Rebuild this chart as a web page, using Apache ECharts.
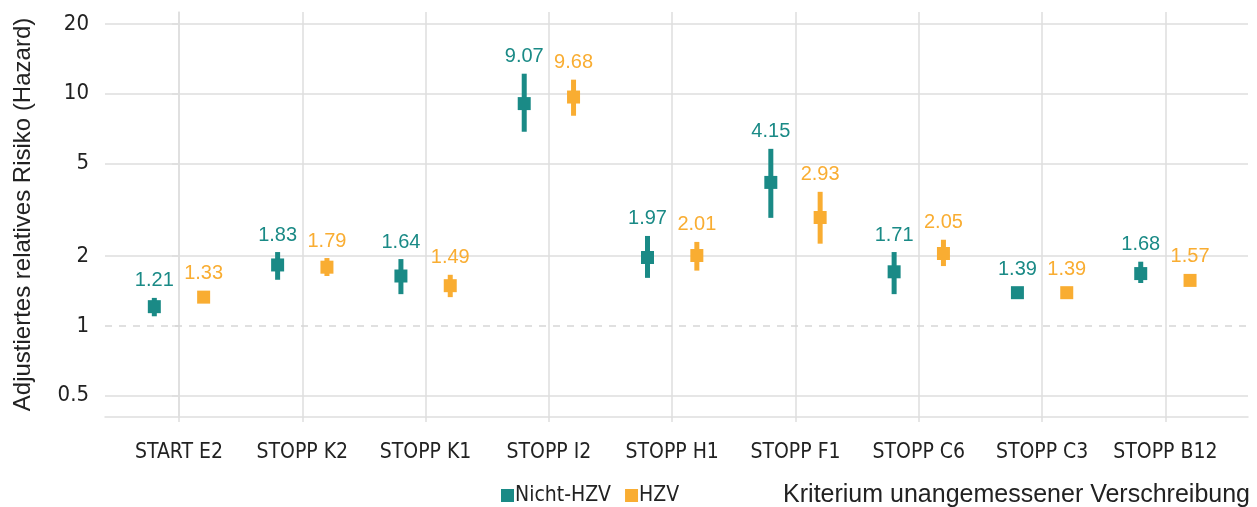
<!DOCTYPE html>
<html>
<head>
<meta charset="utf-8">
<script src="https://cdn.jsdelivr.net/npm/echarts@6/dist/echarts.min.js"></script>
<style>
html, body { margin: 0; padding: 0; background: #fff; }
#chart { width: 1257px; height: 507px; }
</style>
</head>
<body>
<div id="chart"></div>
<script>
// Kriterien
var categories = ['START E2', 'STOPP K2', 'STOPP K1', 'STOPP I2', 'STOPP H1', 'STOPP F1', 'STOPP C6', 'STOPP C3', 'STOPP B12'];

// Nicht-HZV: Schätzer + Konfidenzintervall
var nichtHzv = [1.21, 1.83, 1.64, 9.07, 1.97, 4.15, 1.71, 1.39, 1.68];
var nichtHzvLow = [1.10, 1.58, 1.37, 6.86, 1.61, 2.92, 1.37, 1.33, 1.53];
var nichtHzvHigh = [1.32, 2.08, 1.94, 12.2, 2.44, 5.79, 2.08, 1.45, 1.89];

// HZV
var hzv = [1.33, 1.79, 1.49, 9.68, 2.01, 2.93, 2.05, 1.39, 1.57];
var hzvLow = [1.28, 1.64, 1.33, 8.04, 1.73, 2.26, 1.81, 1.34, 1.50];
var hzvHigh = [1.39, 1.96, 1.66, 11.5, 2.30, 3.78, 2.35, 1.44, 1.64];

var yTicks = [0.5, 1, 2, 5, 10, 20];
var yGrid = [0.5, 2, 5, 10, 20];

var TEAL = '#1a8a86', ORANGE = '#f9ad32';
var GRID = '#dedede';
var narrow = '"DejaVu Sans Condensed", "Liberation Sans Narrow", sans-serif';
var regular = '"Liberation Sans", Arial, sans-serif';
var dodge = 0.2;

function whiskerData(est, lo, hi, off) {
    return est.map(function (v, i) { return [i + off, lo[i], hi[i], v]; });
}
function pointData(est, off) {
    return est.map(function (v, i) { return [i + off, v]; });
}

function renderWhisker(color) {
    return function (params, api) {
        var x = api.value(0);
        var pLo = api.coord([x, api.value(1)]);
        var pHi = api.coord([x, api.value(2)]);
        var pEst = api.coord([x, api.value(3)]);
        var top = Math.min(pHi[1], pEst[1] - 6.5);
        return {
            type: 'group',
            children: [{
                type: 'rect',
                shape: { x: pLo[0] - 2.5, y: pHi[1], width: 5, height: pLo[1] - pHi[1] },
                style: { fill: color }
            }, {
                type: 'text',
                style: {
                    x: pEst[0], y: top - 7,
                    text: api.value(3).toFixed(2),
                    fill: color,
                    font: '20px ' + regular,
                    textAlign: 'center',
                    textVerticalAlign: 'bottom'
                }
            }]
        };
    };
}

var chart = echarts.init(document.getElementById('chart'));
var option = {
    animation: false,
    grid: { left: 105, right: 9, top: 12, bottom: 90 },
    legend: {
        left: 496, top: 480,
        itemWidth: 13, itemHeight: 13, itemGap: 14,
        icon: 'rect',
        data: ['Nicht-HZV', 'HZV'],
        textStyle: { color: '#222', fontSize: 21, fontFamily: narrow, padding: [0, 0, 0, -4] }
    },
    graphic: [{
        type: 'text',
        right: 7, top: 483,
        style: { text: 'Kriterium unangemessener Verschreibung', fill: '#222', font: '25px ' + regular }
    }],
    xAxis: {
        type: 'value',
        min: -0.6, max: 8.67,
        axisLine: { show: true, lineStyle: { color: GRID, width: 1.5 } },
        axisTick: { show: true, length: 5, customValues: [0, 1, 2, 3, 4, 5, 6, 7, 8], lineStyle: { color: GRID, width: 1.5 } },
        splitLine: { show: true, lineStyle: { color: GRID, width: 1.5 } },
        axisLabel: {
            customValues: [0, 1, 2, 3, 4, 5, 6, 7, 8],
            formatter: function (v) { return categories[Math.round(v)]; },
            color: '#222', fontSize: 21, fontFamily: narrow, margin: 25
        }
    },
    yAxis: [{
        type: 'log', logBase: 10,
        min: 0.405, max: 22.5,
        name: 'Adjustiertes relatives Risiko (Hazard)',
        nameLocation: 'middle', nameGap: 70,
        nameTextStyle: { color: '#222', fontSize: 24, fontFamily: regular },
        axisLine: { show: true, lineStyle: { color: GRID, width: 1.5 } },
        axisTick: { show: true, length: 7, customValues: yTicks, lineStyle: { color: GRID, width: 1.5 } },
        splitLine: { show: false },
        axisLabel: {
            customValues: yTicks,
            formatter: function (v) { return String(Math.round(v * 10) / 10); },
            color: '#222', fontSize: 22, fontFamily: narrow, margin: 16
        }
    }, {
        type: 'log', logBase: 10,
        min: 0.405, max: 22.5,
        position: 'left',
        axisLine: { show: false },
        axisTick: { show: false, customValues: yGrid },
        axisLabel: { show: false, customValues: yGrid },
        splitLine: { show: true, lineStyle: { color: GRID, width: 1.5 } }
    }],
    series: [{
        name: 'Nicht-HZV',
        type: 'custom',
        renderItem: renderWhisker(TEAL),
        itemStyle: { color: TEAL },
        data: whiskerData(nichtHzv, nichtHzvLow, nichtHzvHigh, -dodge),
        z: 3,
        markLine: {
            silent: true, symbol: 'none', label: { show: false },
            lineStyle: { color: '#d6d6d6', type: [7, 7], width: 1.5 },
            data: [{ yAxis: 1 }]
        }
    }, {
        name: 'HZV',
        type: 'custom',
        renderItem: renderWhisker(ORANGE),
        itemStyle: { color: ORANGE },
        data: whiskerData(hzv, hzvLow, hzvHigh, dodge),
        z: 3
    }, {
        name: 'Nicht-HZV',
        type: 'scatter',
        symbol: 'rect', symbolSize: 13,
        itemStyle: { color: TEAL, opacity: 1 },
        data: pointData(nichtHzv, -dodge),
        z: 4
    }, {
        name: 'HZV',
        type: 'scatter',
        symbol: 'rect', symbolSize: 13,
        itemStyle: { color: ORANGE, opacity: 1 },
        data: pointData(hzv, dodge),
        z: 4
    }]
};
chart.setOption(option);
</script>
</body>
</html>
